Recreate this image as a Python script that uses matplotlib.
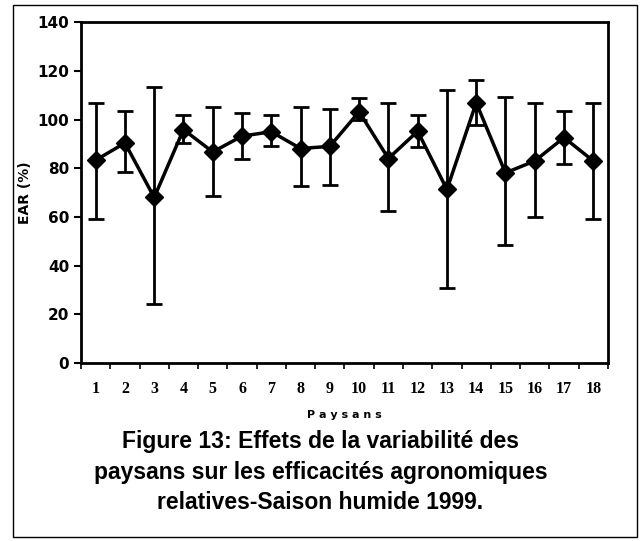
import matplotlib.pyplot as plt
from matplotlib.patches import Rectangle

paysans = [str(i) for i in range(1, 19)]
ear = [83.3, 90.4, 68.0, 95.9, 86.7, 93.2, 95.0, 88.1, 89.0,
       103.2, 84.0, 95.2, 71.3, 106.9, 78.1, 83.0, 92.6, 83.0]
ear_haut = [106.6, 103.6, 113.4, 102.0, 105.0, 102.8, 101.8, 105.0, 104.3,
            108.7, 106.6, 101.8, 112.0, 116.4, 109.3, 106.6, 103.6, 106.6]
ear_bas = [59.0, 78.5, 24.2, 90.4, 68.6, 83.6, 89.0, 72.7, 73.0,
           100.0, 62.5, 88.8, 30.9, 97.7, 48.4, 59.8, 81.7, 59.1]

x = list(range(1, len(paysans) + 1))
err_bas = [m - b for m, b in zip(ear, ear_bas)]
err_haut = [h - m for m, h in zip(ear, ear_haut)]

fig = plt.figure(figsize=(6.41, 5.41), dpi=100)
ax = fig.add_axes([0.1264, 0.329, 0.822, 0.630])

ax.errorbar(x, ear, yerr=[err_bas, err_haut], color='black', marker='D',
            markersize=9, linewidth=2.5, elinewidth=2, capsize=6, capthick=2)

ax.set_xlim(0.5, 18.5)
ax.set_ylim(0, 140)
ax.set_yticks(range(0, 141, 20))
ax.set_xticks(x)
ax.set_xticklabels(paysans, family='Liberation Serif', fontweight='bold', fontsize=11.5)
ax.set_xticks([i + 0.5 for i in range(0, 19)], minor=True)
ax.tick_params(axis='x', which='major', length=0, pad=13)
ax.tick_params(axis='x', which='minor', length=4, width=1.2, direction='out')
ax.tick_params(axis='y', length=5, width=1.5, direction='out', labelsize=11)
for lab in ax.get_yticklabels():
    lab.set_fontweight('bold')
for s in ax.spines.values():
    s.set_linewidth(2)

ax.set_ylabel('EAR (%)', fontsize=10, fontweight='bold', labelpad=4)
ax.set_xlabel('P a y s a n s', fontsize=8, fontweight='bold', labelpad=9)

fig.text(0.5, 0.1275, 'Figure 13: Effets de la variabilité des\n'
         'paysans sur les efficacités agronomiques\n'
         'relatives-Saison humide 1999.',
         ha='center', va='center', family='Liberation Sans', fontweight='bold',
         fontsize=16.5, linespacing=1.42)

fig.patches.append(Rectangle((0.02, 0.008), 0.974, 0.982, transform=fig.transFigure,
                             fill=False, edgecolor='black', linewidth=1))

fig.savefig('out.png', dpi=100)
